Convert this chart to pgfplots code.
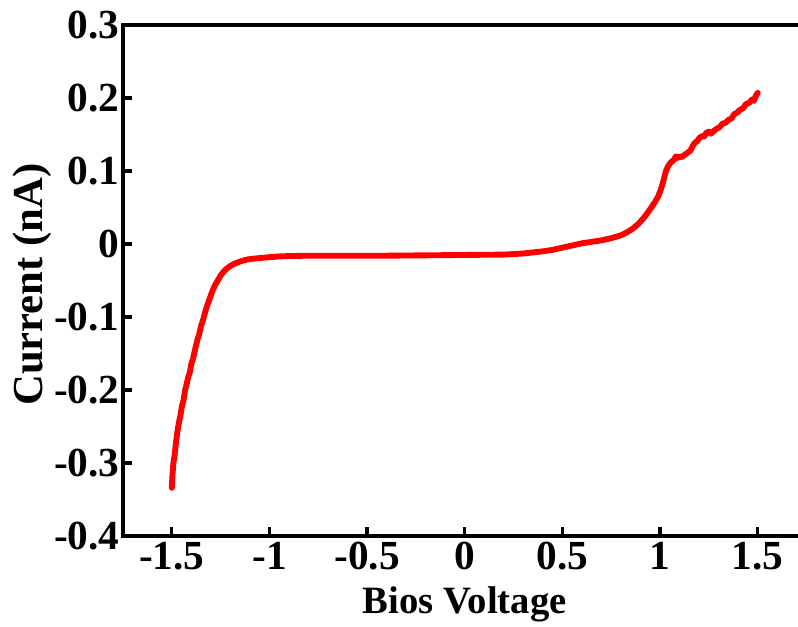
\documentclass[border=0pt]{standalone}
\usepackage{fontspec}
\setmainfont{Liberation Serif}
\usepackage{pgfplots}
\pgfplotsset{compat=1.18}

\begin{document}
\begin{tikzpicture}
\begin{axis}[
    name=a,
    scale only axis,
    width=512.7pt, height=383.25pt,
    xmin=-1.75, xmax=1.75,
    ymin=-0.4, ymax=0.3,
    xtick={-1.5,-1,-0.5,0,0.5,1,1.5},
    ytick={-0.4,-0.3,-0.2,-0.1,0,0.1,0.2,0.3},
    xtick pos=bottom, ytick pos=left,
    tick align=inside,
    major tick length=6.5pt,
    every tick/.style={black, line width=2.5pt},
    axis line style={line width=2.5pt},
    /pgf/number format/assume math mode=true,
    ticklabel style={font=\fontsize{31}{35}\selectfont\bfseries},
    xticklabel style={yshift=-1pt},
    yticklabel style={xshift=1pt},
    xlabel={Bios Voltage},
    ylabel={Current (nA)},
    xlabel style={font=\fontsize{29}{33}\selectfont\bfseries, at={(axis description cs:0.5,-0.133)}, anchor=center},
    ylabel style={font=\fontsize{32}{36}\selectfont\bfseries, at={(axis description cs:-0.133,0.492)}, anchor=center},
]
\addplot[red, line width=4.4pt, line join=round, line cap=round] coordinates {
(-1.500,-0.334) (-1.497,-0.318) (-1.492,-0.300) (-1.486,-0.290) (-1.480,-0.275)
(-1.472,-0.258) (-1.464,-0.245) (-1.456,-0.235) (-1.448,-0.222) (-1.440,-0.214)
(-1.432,-0.200) (-1.424,-0.192) (-1.416,-0.182) (-1.408,-0.176) (-1.400,-0.164)
(-1.392,-0.158) (-1.384,-0.148) (-1.376,-0.139) (-1.368,-0.130) (-1.360,-0.124)
(-1.350,-0.112) (-1.340,-0.104) (-1.330,-0.094) (-1.320,-0.085) (-1.310,-0.078)
(-1.300,-0.070) (-1.290,-0.063) (-1.280,-0.057) (-1.265,-0.050) (-1.250,-0.043)
(-1.235,-0.038) (-1.220,-0.034) (-1.200,-0.030) (-1.180,-0.027) (-1.160,-0.025)
(-1.140,-0.023) (-1.110,-0.021) (-1.080,-0.020) (-1.040,-0.019) (-1.000,-0.018)
(-0.950,-0.017) (-0.900,-0.0165) (-0.800,-0.016) (-0.600,-0.016) (-0.400,-0.016)
(-0.200,-0.0155) (0.000,-0.015) (0.200,-0.0145) (0.300,-0.013) (0.400,-0.010)
(0.450,-0.008) (0.500,-0.005) (0.550,-0.002) (0.600,0.001) (0.650,0.003)
(0.700,0.005) (0.750,0.008) (0.800,0.012) (0.830,0.016) (0.860,0.021)
(0.890,0.028) (0.920,0.037) (0.950,0.048) (0.970,0.056) (0.990,0.065)
(1.000,0.072) (1.010,0.080) (1.020,0.090) (1.030,0.100) (1.040,0.106)
(1.055,0.112) (1.070,0.115) (1.080,0.120) (1.090,0.118) (1.100,0.120)
(1.110,0.119) (1.125,0.122) (1.140,0.125) (1.155,0.128) (1.165,0.133)
(1.175,0.138) (1.190,0.141) (1.200,0.145) (1.215,0.148) (1.225,0.147)
(1.235,0.152) (1.250,0.154) (1.260,0.151) (1.275,0.155) (1.290,0.158)
(1.305,0.160) (1.320,0.165) (1.335,0.166) (1.350,0.170) (1.365,0.172)
(1.380,0.178) (1.395,0.180) (1.410,0.184) (1.425,0.186) (1.440,0.192)
(1.455,0.193) (1.470,0.198) (1.480,0.196) (1.490,0.203) (1.500,0.207)
};
\end{axis}
\pgfresetboundingbox
\path ([shift={(-92.25pt,-67.5pt)}]a.south west) rectangle ([shift={(506.25pt,402pt)}]a.south west);
\end{tikzpicture}
\end{document}
